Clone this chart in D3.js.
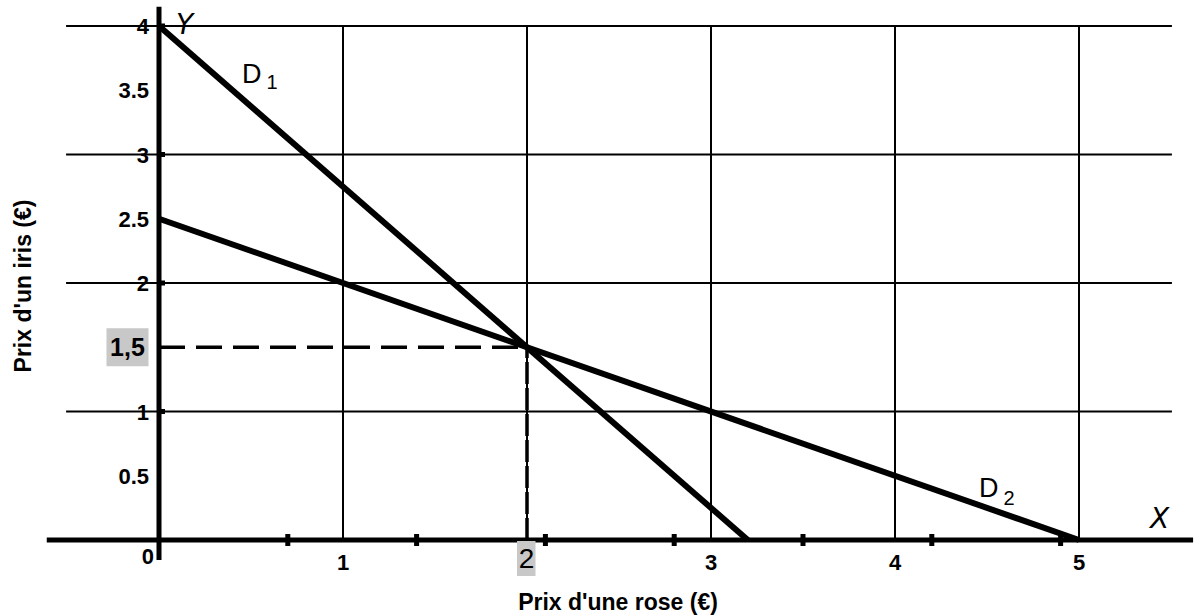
<!DOCTYPE html>
<html>
<head>
<meta charset="utf-8">
<script src="https://cdn.jsdelivr.net/npm/d3@7/dist/d3.min.js"></script>
<style>
  html, body { margin: 0; padding: 0; background: #fff; }
  text { font-family: "Liberation Sans", Arial, sans-serif; fill: #000; }
</style>
</head>
<body>
<svg id="chart" width="1194" height="616"></svg>
<script>
// ---- data ----
const xGridValues = [1, 2, 3, 4, 5];
const yGridValues = [1, 2, 3, 4];
const xTickLabels = ["1", "3", "4", "5"];
const xTickLabelValues = [1, 3, 4, 5];
const yTickLabelValues = [0.5, 1, 2, 2.5, 3, 3.5, 4];
const yTickLabels = ["0.5", "1", "2", "2.5", "3", "3.5", "4"];
const xMinorTicks = [0.7, 1.4, 2.1, 2.8, 3.5, 4.2, 4.9];
const d1Points = [[0, 4], [3.2, 0]];   // D1 : y = 4 - 1.25x
const d2Points = [[0, 2.5], [5, 0]];   // D2 : y = 2.5 - 0.5x
const equilibrium = [2, 1.5];
const eqLabels = ["2", "1,5"];
const xTitle = "Prix d'une rose (€)";
const yTitle = "Prix d'un iris (€)";

// ---- scales ----
const svg = d3.select("#chart");
const x = d3.scaleLinear().domain([0, 5]).range([159, 1079]);
const y = d3.scaleLinear().domain([0, 4]).range([540, 26]);

// horizontal grid lines
svg.append("g")
  .selectAll("line").data(yGridValues).join("line")
  .attr("x1", x(-0.505)).attr("x2", x(5.505))
  .attr("y1", d => y(d)).attr("y2", d => y(d))
  .attr("stroke", "#000").attr("stroke-width", 2);

// vertical grid lines
svg.append("g")
  .selectAll("line").data(xGridValues).join("line")
  .attr("x1", d => x(d)).attr("x2", d => x(d))
  .attr("y1", y(4)).attr("y2", y(0))
  .attr("stroke", "#000").attr("stroke-width", 2);

// dashed guide lines
const dash = svg.append("g").attr("stroke", "#000").attr("stroke-width", 3.5)
  .attr("stroke-dasharray", "26,11").attr("fill", "none");
dash.append("line")
  .attr("x1", x(0)).attr("y1", y(equilibrium[1]))
  .attr("x2", x(equilibrium[0])).attr("y2", y(equilibrium[1]));
dash.append("line")
  .attr("x1", x(equilibrium[0])).attr("y1", y(0))
  .attr("x2", x(equilibrium[0])).attr("y2", y(equilibrium[1]))
  .attr("stroke-dasharray", "22,4");

// demand lines
const line = d3.line().x(d => x(d[0])).y(d => y(d[1]));
[d1Points, d2Points].forEach(pts => {
  svg.append("path").datum(pts).attr("d", line)
    .attr("fill", "none").attr("stroke", "#000").attr("stroke-width", 6);
});

// axes (thick)
svg.append("line")
  .attr("x1", x(-0.61)).attr("x2", x(5.62))
  .attr("y1", y(0)).attr("y2", y(0))
  .attr("stroke", "#000").attr("stroke-width", 5);
svg.append("line")
  .attr("x1", x(0)).attr("x2", x(0))
  .attr("y1", y(4.15)).attr("y2", y(-0.155))
  .attr("stroke", "#000").attr("stroke-width", 5);

// minor ticks on x axis
svg.append("g").selectAll("rect").data(xMinorTicks).join("rect")
  .attr("x", d => x(d) - 2.5).attr("y", y(0) - 6)
  .attr("width", 5).attr("height", 12).attr("fill", "#000");
// small marks on y axis at grid values
svg.append("g").selectAll("rect").data(yGridValues).join("rect")
  .attr("x", x(0) - 1).attr("y", d => y(d) - 2.5)
  .attr("width", 7).attr("height", 5).attr("fill", "#000");

// y tick labels
svg.append("g").selectAll("text").data(yTickLabelValues).join("text")
  .attr("x", 149).attr("y", d => y(d) + 8)
  .attr("text-anchor", "end")
  .style("font-size", "22px").style("font-weight", "bold")
  .text((d, i) => yTickLabels[i]);

// x tick labels
svg.append("g").selectAll("text").data(xTickLabelValues).join("text")
  .attr("x", d => x(d)).attr("y", y(0) + 30)
  .attr("text-anchor", "middle")
  .style("font-size", "22px").style("font-weight", "bold")
  .text((d, i) => xTickLabels[i]);
svg.append("text").attr("x", x(0) - 5).attr("y", y(0) + 24)
  .attr("text-anchor", "end")
  .style("font-size", "22px").style("font-weight", "bold").text("0");

// highlighted equilibrium labels
svg.append("rect").attr("x", 106.5).attr("y", y(equilibrium[1]) - 19)
  .attr("width", 42).attr("height", 38).attr("fill", "#c8c8c8");
svg.append("text").attr("x", 127.5).attr("y", y(equilibrium[1]) + 9)
  .attr("text-anchor", "middle")
  .style("font-size", "25px").style("font-weight", "bold").text(eqLabels[1]);
svg.append("rect").attr("x", x(equilibrium[0]) - 10).attr("y", y(0) + 1)
  .attr("width", 18.5).attr("height", 35).attr("fill", "#c8c8c8");
svg.append("text").attr("x", x(equilibrium[0]) - 0.5).attr("y", y(0) + 28)
  .attr("text-anchor", "middle")
  .style("font-size", "28px").text(eqLabels[0]);

// line labels
const lab1 = svg.append("text").attr("x", 242).attr("y", 83)
  .style("font-size", "27px");
lab1.append("tspan").text("D");
lab1.append("tspan").attr("dx", 5).attr("dy", 6).style("font-size", "20px").text("1");
const lab2 = svg.append("text").attr("x", 979).attr("y", 497)
  .style("font-size", "27px");
lab2.append("tspan").text("D");
lab2.append("tspan").attr("dx", 5).attr("dy", 8).style("font-size", "20px").text("2");

// axis letter names
svg.append("text").attr("x", 176).attr("y", 34)
  .style("font-size", "28px").style("font-style", "italic")
  .style("font-family", "'DejaVu Sans', sans-serif").text("Y");
svg.append("text").attr("x", 1150).attr("y", 528)
  .style("font-size", "28px").style("font-style", "italic")
  .style("font-family", "'DejaVu Sans', sans-serif").text("X");

// axis titles
svg.append("text").attr("x", 618).attr("y", 610)
  .attr("text-anchor", "middle")
  .style("font-size", "23px").style("font-weight", "bold").text(xTitle);
svg.append("text").attr("transform", "translate(31,286) rotate(-90)")
  .attr("text-anchor", "middle")
  .style("font-size", "23px").style("font-weight", "bold").text(yTitle);
</script>
</body>
</html>
